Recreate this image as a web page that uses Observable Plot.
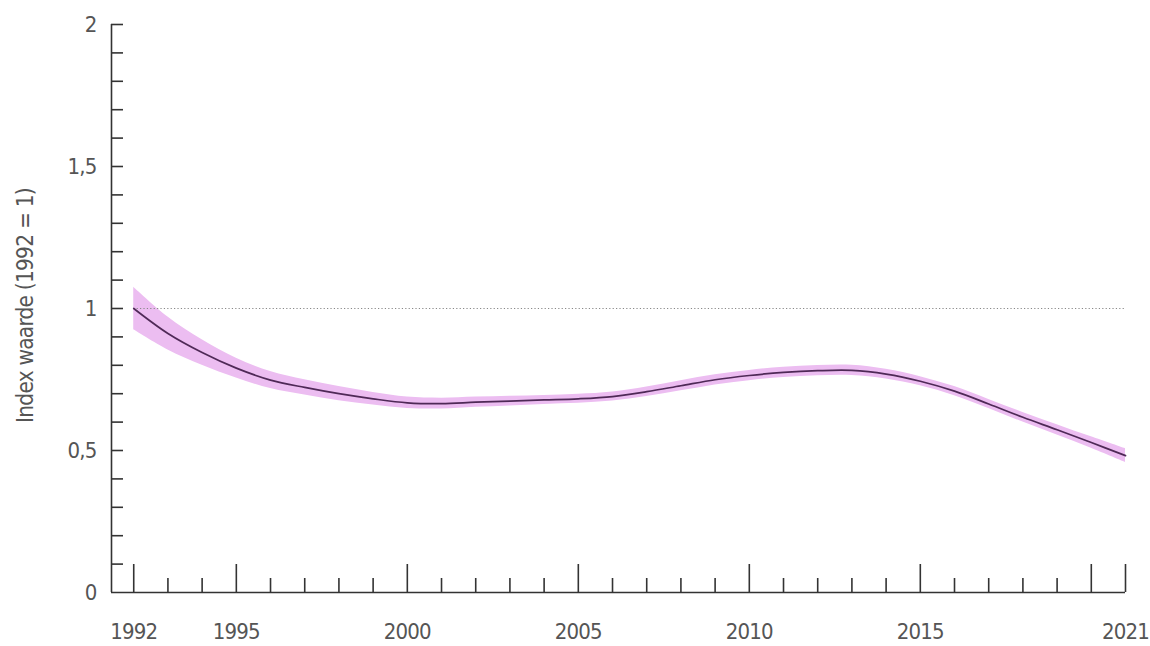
<!DOCTYPE html>
<html>
<head>
<meta charset="utf-8">
<script src="https://cdn.jsdelivr.net/npm/d3@7"></script>
<script src="https://cdn.jsdelivr.net/npm/@observablehq/plot@0.6"></script>
<style>
  body { margin: 0; background: #fff; }
</style>
</head>
<body>
<div id="chart"></div>
<script>
// Index (1992 = 1) with its confidence band, 1992–2021
const years = [1992, 1993, 1994, 1995, 1996, 1997, 1998, 1999, 2000, 2001,
               2002, 2003, 2004, 2005, 2006, 2007, 2008, 2009, 2010, 2011,
               2012, 2013, 2014, 2015, 2016, 2017, 2018, 2019, 2020, 2021];
const index = [1.000, 0.912, 0.845, 0.790, 0.748, 0.722, 0.700, 0.682, 0.668, 0.665,
               0.670, 0.674, 0.678, 0.682, 0.690, 0.707, 0.728, 0.749, 0.764, 0.775,
               0.781, 0.782, 0.769, 0.744, 0.709, 0.664, 0.617, 0.573, 0.528, 0.482];
const lower = [0.925, 0.854, 0.800, 0.755, 0.718, 0.695, 0.675, 0.660, 0.648, 0.646,
               0.652, 0.657, 0.662, 0.666, 0.674, 0.690, 0.710, 0.731, 0.746, 0.757,
               0.763, 0.764, 0.752, 0.728, 0.693, 0.648, 0.600, 0.555, 0.508, 0.458];
const upper = [1.075, 0.970, 0.890, 0.825, 0.778, 0.749, 0.725, 0.704, 0.688, 0.684,
               0.688, 0.691, 0.694, 0.698, 0.706, 0.724, 0.746, 0.767, 0.782, 0.793,
               0.799, 0.800, 0.786, 0.760, 0.725, 0.680, 0.634, 0.591, 0.548, 0.506];

const xLabelYears = [1992, 1995, 2000, 2005, 2010, 2015, 2021];
const xMajorYears = [1992, 1995, 2000, 2005, 2010, 2015, 2020, 2021];
const yLabelTicks = [0, 0.5, 1, 1.5, 2];
const yMinorTicks = [0.1, 0.2, 0.3, 0.4, 0.5, 0.6, 0.7, 0.8, 0.9, 1.0,
                     1.1, 1.2, 1.3, 1.4, 1.5, 1.6, 1.7, 1.8, 1.9, 2.0];
const baseline = 1;
const yTitle = "Index waarde (1992 = 1)";

const data = years.map((year, i) => ({year, index: index[i], lower: lower[i], upper: upper[i]}));

// Layout
const width = 1150, height = 646;
const marginLeft = 111, marginRight = 25, marginTop = 24, marginBottom = 54;
const innerW = width - marginLeft - marginRight;
const innerH = height - marginTop - marginBottom;
const xOrigin = 1991.35; // the axes meet a little before the first year

const bandFill = "#ecbdf1";
const lineColor = "#4f2957";
const axisColor = "#333";
const textColor = "#555";
const fontFamily = "'Liberation Sans Narrow', 'DejaVu Sans Condensed', 'Arial Narrow', sans-serif";
const comma = d => String(d).replace(".", ",");

const chart = Plot.plot({
  width, height, marginLeft, marginRight, marginTop, marginBottom,
  style: {fontFamily, fontSize: "22px", letterSpacing: "-0.8px", color: textColor, background: "#fff"},
  x: {domain: [xOrigin, 2021]},
  y: {domain: [0, 2]},
  marks: [
    // confidence band
    Plot.areaY(data, {x: "year", y1: "lower", y2: "upper", fill: bandFill, curve: "catmull-rom"}),
    // reference level
    Plot.ruleY([baseline], {x1: years[0], x2: years[years.length - 1], stroke: "#888",
      strokeWidth: 1.2, strokeDasharray: "1.2,2.2"}),
    // trend line
    Plot.lineY(data, {x: "year", y: "index", stroke: lineColor, strokeWidth: 1.7, curve: "catmull-rom"}),
    // axis lines
    Plot.ruleX([xOrigin], {stroke: axisColor, strokeWidth: 1.6}),
    Plot.ruleY([0], {stroke: axisColor, strokeWidth: 1.6}),
    // inward y ticks
    Plot.tickY(yMinorTicks, {y: d => d, stroke: axisColor, strokeWidth: 1.6, insetRight: innerW - 12}),
    // x ticks: long at labelled years, short elsewhere
    Plot.tickX(years.filter(y => !xMajorYears.includes(y)), {x: d => d, stroke: axisColor, strokeWidth: 1.6, insetTop: innerH - 14}),
    Plot.tickX(xMajorYears, {x: d => d, stroke: axisColor, strokeWidth: 1.6, insetTop: innerH - 28}),
    Plot.axisY({ticks: yLabelTicks, tickFormat: comma, tickSize: 0, tickPadding: 15, label: null}),
    Plot.axisX({ticks: xLabelYears, tickFormat: d => String(d), tickSize: 0, tickPadding: 31, label: null}),
    Plot.text([yTitle], {frameAnchor: "left", dx: -86, dy: -3, rotate: -90, text: d => d,
      textAnchor: "middle", lineAnchor: "middle", fill: textColor, fontSize: 22.5, style: {letterSpacing: "0px"}})
  ]
});

document.getElementById("chart").append(chart);
</script>
</body>
</html>
